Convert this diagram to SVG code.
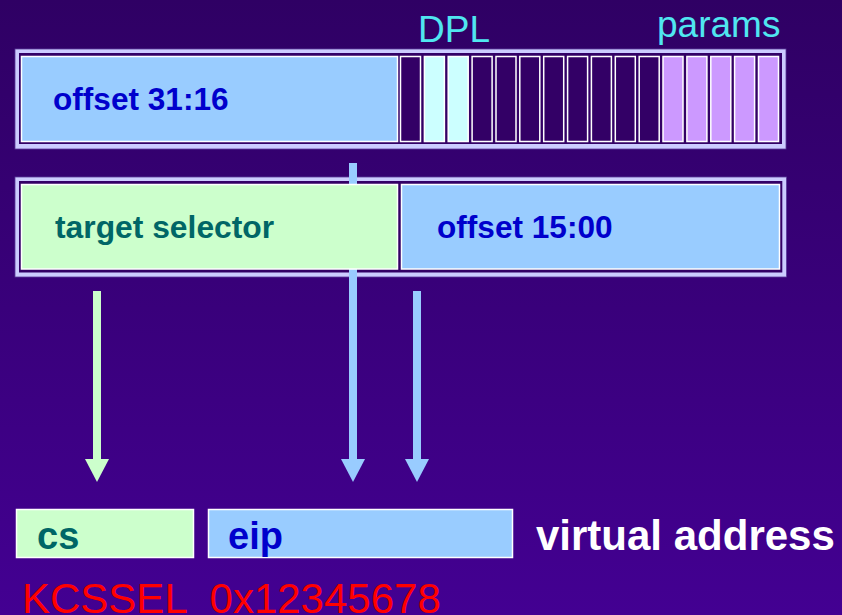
<svg xmlns="http://www.w3.org/2000/svg" width="842" height="615" viewBox="0 0 842 615">
  <defs>
    <linearGradient id="bg" x1="0" y1="0" x2="0" y2="1">
      <stop offset="0" stop-color="#2f0064"/>
      <stop offset="1" stop-color="#430092"/>
    </linearGradient>
    <marker id="headGreen" viewBox="0 0 23 24" refX="0" refY="12" markerWidth="23" markerHeight="24" markerUnits="userSpaceOnUse" orient="auto">
      <path d="M0,0 L23,12 L0,24 Z" fill="#ccffcc"/>
    </marker>
    <marker id="headBlue" viewBox="0 0 23 24" refX="0" refY="12" markerWidth="23" markerHeight="24" markerUnits="userSpaceOnUse" orient="auto">
      <path d="M0,0 L23,12 L0,24 Z" fill="#99ccff"/>
    </marker>
  </defs>
  <style>
    .frameOuter { fill: #ccccff; stroke: #5a3a9a; stroke-width: 0.8; }
    .frameInner { fill: #330066; }
    .cell { stroke: #ffffff; stroke-width: 1.5; }
    .blue { fill: #99ccff; }
    .green { fill: #ccffcc; }
    .cyan { fill: #ccffff; }
    .lilac { fill: #cc99ff; }
    .dark { fill: #330066; }
    .lbl { font-family: "Liberation Sans", Arial, sans-serif; font-weight: bold; }
    .reg { font-family: "Liberation Sans", Arial, sans-serif; }
    .tblue { fill: #0000cc; }
    .tteal { fill: #006666; }
    .conn { fill: none; stroke-width: 8; }
  </style>
  <rect x="0" y="0" width="842" height="615" fill="url(#bg)"/>

  <!-- frame borders -->
  <g id="frame-top">
    <rect class="frameOuter" x="15" y="49" width="771" height="100"/>
    <rect class="frameInner" x="19" y="53" width="763" height="91"/>
  </g>
  <g id="frame-middle">
    <rect class="frameOuter" x="15" y="177" width="771.5" height="100"/>
    <rect class="frameInner" x="19" y="181" width="763.3" height="91.5"/>
  </g>

  <!-- connectors -->
  <g id="connectors">
    <line class="conn" x1="97" y1="291" x2="97" y2="459" stroke="#ccffcc" marker-end="url(#headGreen)"/>
    <line class="conn" x1="353" y1="163" x2="353" y2="459" stroke="#99ccff" marker-end="url(#headBlue)"/>
    <line class="conn" x1="417" y1="291" x2="417" y2="459" stroke="#99ccff" marker-end="url(#headBlue)"/>
  </g>

  <!-- top descriptor word -->
  <g id="offset-31-16">
    <rect class="cell blue" x="21.5" y="56.5" width="376" height="85"/>
    <text class="lbl tblue" x="53" y="109.5" font-size="31.6">offset 31:16</text>
  </g>
  <g id="bits">
    <rect class="cell dark" x="400.5" y="56.5" width="20" height="85"/>
    <rect class="cell cyan" x="424.4" y="56.5" width="20" height="85"/>
    <rect class="cell cyan" x="448.2" y="56.5" width="20" height="85"/>
    <rect class="cell dark" x="472.1" y="56.5" width="20" height="85"/>
    <rect class="cell dark" x="496.0" y="56.5" width="20" height="85"/>
    <rect class="cell dark" x="519.8" y="56.5" width="20" height="85"/>
    <rect class="cell dark" x="543.7" y="56.5" width="20" height="85"/>
    <rect class="cell dark" x="567.6" y="56.5" width="20" height="85"/>
    <rect class="cell dark" x="591.4" y="56.5" width="20" height="85"/>
    <rect class="cell dark" x="615.3" y="56.5" width="20" height="85"/>
    <rect class="cell dark" x="639.2" y="56.5" width="20" height="85"/>
    <rect class="cell lilac" x="663.0" y="56.5" width="20" height="85"/>
    <rect class="cell lilac" x="686.9" y="56.5" width="20" height="85"/>
    <rect class="cell lilac" x="710.8" y="56.5" width="20" height="85"/>
    <rect class="cell lilac" x="734.6" y="56.5" width="20" height="85"/>
    <rect class="cell lilac" x="758.5" y="56.5" width="20" height="85"/>
  </g>
  <g id="label-dpl">
    <text class="reg" x="418" y="41.5" font-size="37" fill="#50e6f0">DPL</text>
  </g>
  <g id="label-params">
    <text class="reg" x="657" y="37" font-size="37" fill="#50e6f0">params</text>
  </g>

  <!-- middle descriptor word -->
  <g id="target-selector">
    <rect class="cell green" x="21.5" y="184.5" width="376" height="84.5"/>
    <text class="lbl tteal" x="55" y="238" font-size="31.8">target selector</text>
  </g>
  <g id="offset-15-00">
    <rect class="cell blue" x="401.5" y="184.5" width="378" height="84.5"/>
    <text class="lbl tblue" x="437" y="238" font-size="31.6">offset 15:00</text>
  </g>

  <!-- bottom registers -->
  <g id="cs">
    <rect class="cell green" x="16.5" y="509.5" width="177" height="48"/>
    <text class="lbl tteal" x="37" y="549" font-size="38">cs</text>
  </g>
  <g id="eip">
    <rect class="cell blue" x="208.5" y="509.5" width="304" height="48"/>
    <text class="lbl tblue" x="228" y="549" font-size="38">eip</text>
  </g>
  <g id="virtual-address">
    <text class="lbl" x="536" y="550" font-size="42" fill="#ffffff">virtual address</text>
  </g>
  <g id="values">
    <text class="reg" x="22" y="613" font-size="42" fill="#ff0000" xml:space="preserve">KCSSEL  0x12345678</text>
  </g>
</svg>
